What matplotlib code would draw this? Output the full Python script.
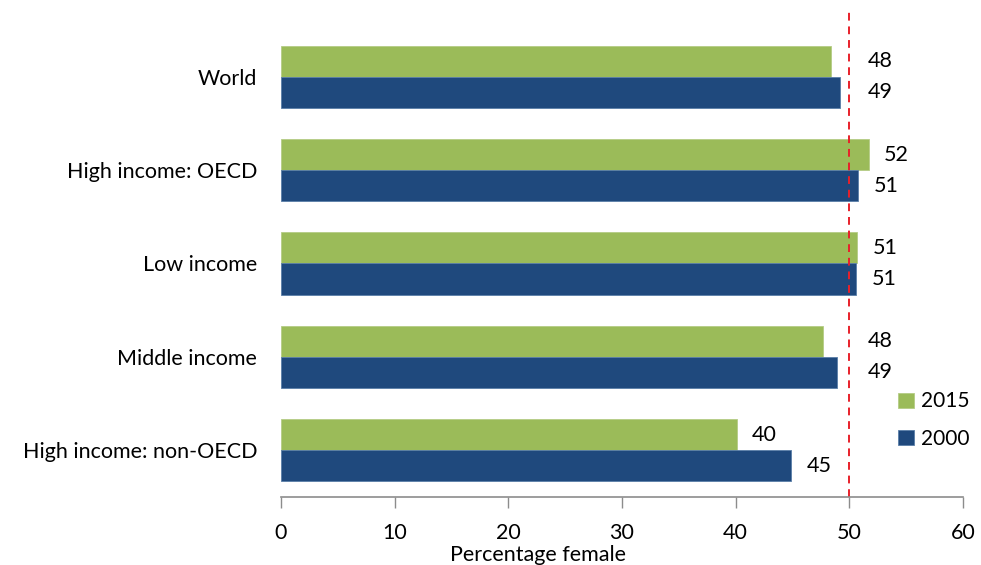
import matplotlib.pyplot as plt
import numpy as np

plt.rcParams['font.family'] = ['Lato', 'DejaVu Sans']

categories = ["World", "High income: OECD", "Low income", "Middle income", "High income: non-OECD"]
values_2015 = [48.4, 51.7, 50.7, 47.7, 40.1]
values_2000 = [49.2, 50.8, 50.6, 48.9, 44.9]
labels_2015 = ["48", "52", "51", "48", "40"]
labels_2000 = ["49", "51", "51", "49", "45"]

green = "#9BBB59"
blue = "#1F497D"
fs = 15.5

fig = plt.figure(figsize=(9.81, 5.65), dpi=100)
ax = fig.add_axes([0.2864, 0.1204, 0.6952, 0.8265])

y = np.arange(len(categories))
h = 1 / 3
ax.barh(y - h / 2, values_2015, height=h, color=green, edgecolor="#b5cc85", linewidth=0.6, label="2015")
ax.barh(y + h / 2, values_2000, height=h, color=blue, edgecolor="#5a7ea8", linewidth=0.6, label="2000")

# labels sit right of the bar, or right of the 50% line if the bar stops just short of it
def label_x(v):
    if 47 < v < 50:
        return 50.3
    return v

for i in range(len(categories)):
    ax.annotate(labels_2015[i], (label_x(values_2015[i]), y[i] - h / 2), xytext=(11, 0),
                textcoords="offset points", va="center", ha="left", fontsize=fs)
    ax.annotate(labels_2000[i], (label_x(values_2000[i]), y[i] + h / 2), xytext=(11, 0),
                textcoords="offset points", va="center", ha="left", fontsize=fs)

ax.plot([50, 50], [0, 1.043], transform=ax.get_xaxis_transform(), color="#e8202a",
        linestyle=(0, (4, 3)), linewidth=1.4, clip_on=False)

ax.set_xlim(0, 60)
ax.set_ylim(4.5, -0.5)
ax.set_xticks(range(0, 61, 10))
ax.set_yticks(y)
ax.set_yticklabels(categories, fontsize=fs)
ax.tick_params(axis="y", length=0, pad=17)
ax.tick_params(axis="x", direction="out", length=8, width=1, color="#8c8c8c", labelsize=fs, pad=11)

for s in ["top", "right", "left"]:
    ax.spines[s].set_visible(False)
ax.spines["bottom"].set_color("#8c8c8c")
ax.spines["bottom"].set_linewidth(1.2)

ax.set_xlabel("Percentage female", fontsize=fs)
ax.xaxis.set_label_coords(0.377, -0.102)

fig.legend(loc="upper right", bbox_to_anchor=(0.997, 0.322), frameon=False, fontsize=15,
           handlelength=0.75, handleheight=0.75, handletextpad=0.35, labelspacing=0.85, borderaxespad=0)

fig.savefig("out.png", dpi=100)
